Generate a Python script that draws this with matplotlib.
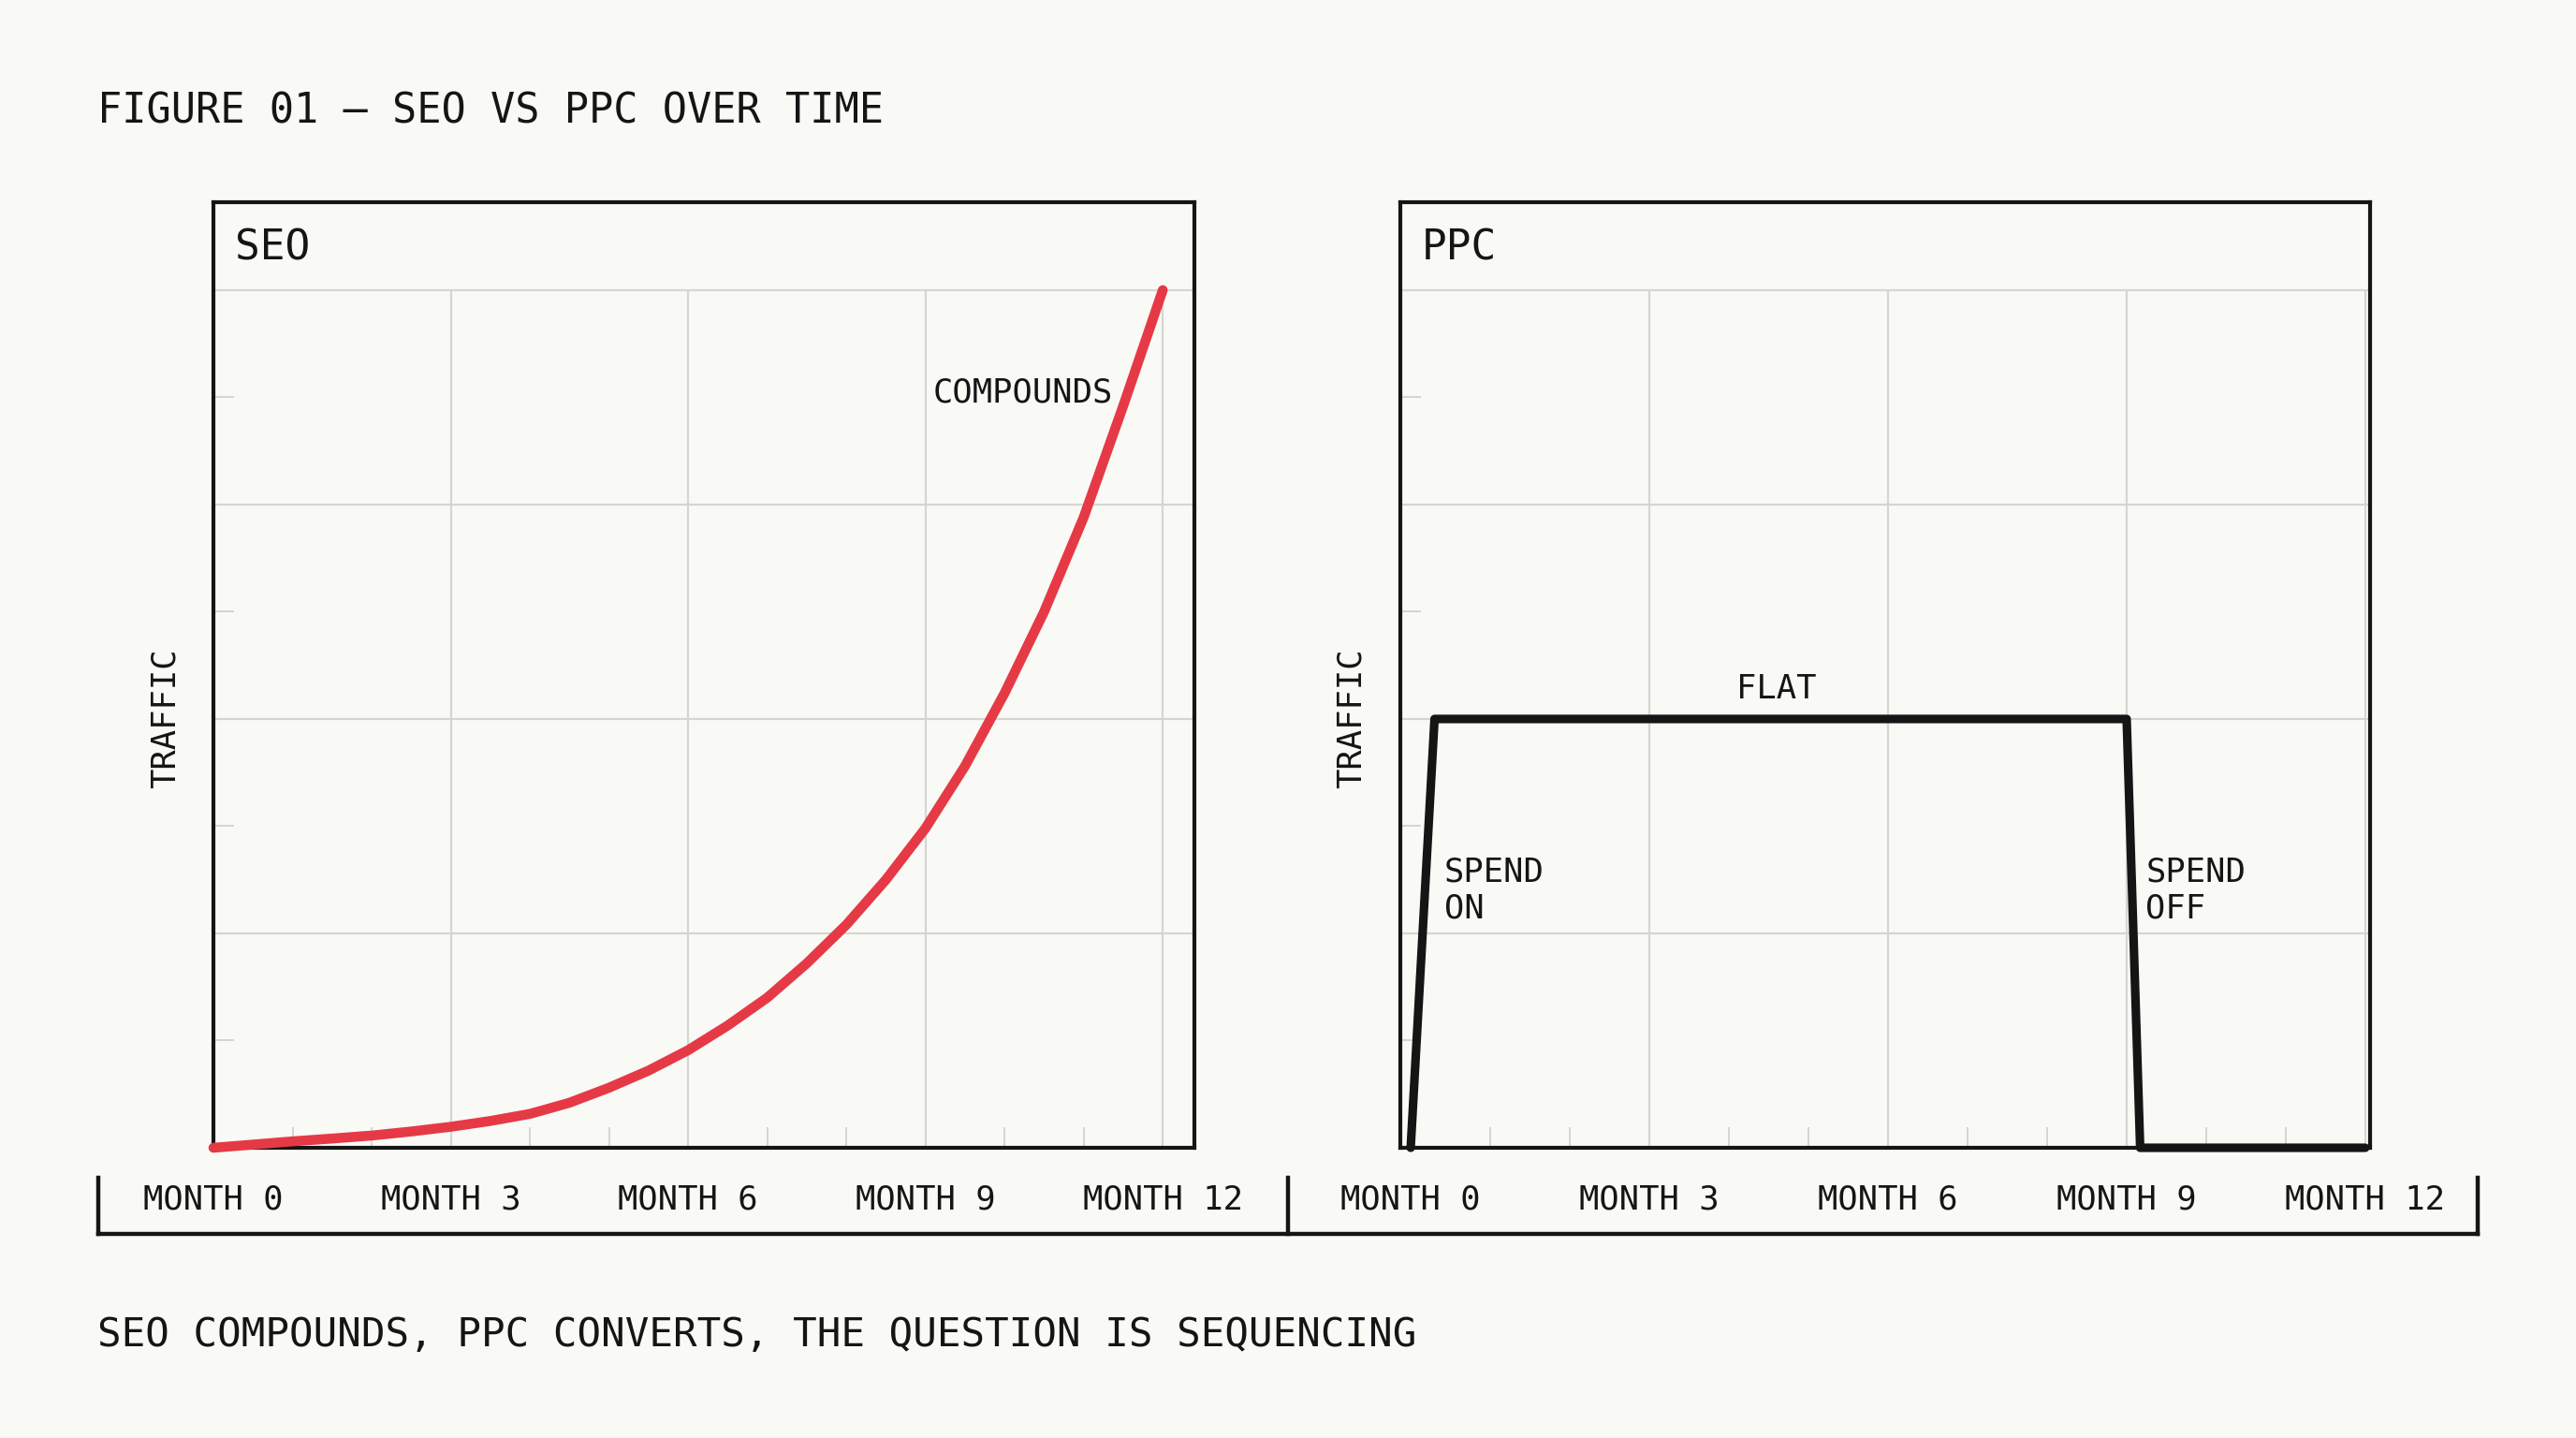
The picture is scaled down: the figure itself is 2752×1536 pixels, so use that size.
import matplotlib
matplotlib.use("Agg")
import matplotlib.pyplot as plt
from matplotlib.lines import Line2D
from matplotlib.ticker import FixedLocator

# ---------------- data ----------------
tick_months = [0, 3, 6, 9, 12]
tick_labels = ["MONTH 0", "MONTH 3", "MONTH 6", "MONTH 9", "MONTH 12"]
minor_months = [1, 2, 4, 5, 7, 8, 10, 11]
traffic_grid = [0, 1, 2, 3, 4]
traffic_minor = [0.5, 1.5, 2.5, 3.5]

seo_months = [0, 0.5, 1, 1.5, 2, 2.5, 3, 3.5, 4, 4.5, 5, 5.5, 6,
              6.5, 7, 7.5, 8, 8.5, 9, 9.5, 10, 10.5, 11, 11.5, 12]
seo_traffic = [0.00, 0.015, 0.03, 0.043, 0.057, 0.076, 0.098, 0.125, 0.158,
               0.21, 0.28, 0.36, 0.455, 0.57, 0.70, 0.86, 1.04, 1.25, 1.49,
               1.78, 2.12, 2.50, 2.94, 3.46, 4.00]

ppc_months = [0, 0.3, 9, 9.17, 12]
ppc_traffic = [0, 2, 2, 0, 0]

title = "FIGURE 01 \u2014 SEO VS PPC OVER TIME"
footer = "SEO COMPOUNDS, PPC CONVERTS, THE QUESTION IS SEQUENCING"

# ---------------- style ----------------
BG = "#F9F9F5"
INK = "#151515"
RED = "#E63946"
GRID = "#D6D6D1"
MONO = ["DejaVu Sans Mono"]

plt.rcParams["font.family"] = MONO

W, H = 2752, 1536
fig = plt.figure(figsize=(W / 200, H / 200), dpi=200, facecolor=BG)

ax1 = fig.add_axes([228 / W, 1 - 1226 / H, 1048 / W, 1010 / H])
ax2 = fig.add_axes([1496 / W, 1 - 1226 / H, 1036 / W, 1010 / H])


def style(ax, xlim, name, label_x):
    ax.set_facecolor(BG)
    ax.set_xlim(*xlim)
    ax.set_ylim(0, 4.41)
    ax.set_axisbelow(True)
    ax.xaxis.set_major_locator(FixedLocator(tick_months))
    ax.set_xticklabels(tick_labels)
    ax.xaxis.set_minor_locator(FixedLocator(minor_months))
    ax.yaxis.set_major_locator(FixedLocator(traffic_grid))
    ax.yaxis.set_minor_locator(FixedLocator(traffic_minor))
    ax.set_yticklabels([])
    ax.grid(True, axis="y", which="major", color=GRID, linewidth=0.8)
    ax.vlines(tick_months[1:], traffic_grid[0], traffic_grid[-1], color=GRID,
              linewidth=0.8, zorder=0.5)
    ax.tick_params(axis="x", which="major", length=0, pad=14,
                   labelsize=12.8, labelcolor=INK)
    ax.tick_params(axis="y", which="major", length=0)
    ax.tick_params(axis="x", which="minor", direction="in", length=8,
                   width=0.7, color=GRID, top=False)
    ax.tick_params(axis="y", which="minor", direction="in", length=8,
                   width=0.7, color=GRID, right=False)
    for sp in ax.spines.values():
        sp.set_color(INK)
        sp.set_linewidth(1.5)
    ax.set_ylabel("TRAFFIC", fontsize=12.8, color=INK)
    ax.yaxis.set_label_coords(label_x, 0.4545)
    ax.text(0.022, 0.951, name, transform=ax.transAxes, fontsize=16,
            color=INK, ha="left", va="center")


style(ax1, (0, 12.4), "SEO", -0.033)
style(ax2, (-0.13, 12.06), "PPC", -0.034)

ax1.plot(seo_months, seo_traffic, color=RED, linewidth=3.8,
         solid_joinstyle="round", solid_capstyle="round", clip_on=False,
         zorder=3)
ax1.text(9.09, 3.52, "COMPOUNDS", fontsize=12.8, color=INK,
         ha="left", va="center")

ax2.plot(ppc_months, ppc_traffic, color=INK, linewidth=3.3,
         solid_joinstyle="round", solid_capstyle="round", clip_on=False,
         zorder=3)
ax2.text(4.6, 2.14, "FLAT", fontsize=12.8, color=INK, ha="center",
         va="center")
ax2.text(0.42, 1.20, "SPEND\nON", fontsize=12.8, color=INK, ha="left",
         va="center", linespacing=1.2)
ax2.text(9.24, 1.20, "SPEND\nOFF", fontsize=12.8, color=INK, ha="left",
         va="center", linespacing=1.2)


# bracket below the tick labels
def fx(px):
    return px / W


def fy(py):
    return 1 - py / H


bracket = [((105, 105), (1258, 1318)), ((105, 2647), (1318, 1318)),
           ((2647, 2647), (1258, 1318)), ((1376, 1376), (1258, 1318))]
for xs, ys in bracket:
    fig.add_artist(Line2D([fx(x) for x in xs], [fy(y) for y in ys],
                          color=INK, linewidth=1.6,
                          solid_capstyle="projecting"))

fig.text(fx(104), fy(119), title, fontsize=15.7, color=INK,
         ha="left", va="center")
fig.text(fx(104), fy(1426), footer, fontsize=15.3, color=INK,
         ha="left", va="center")

fig.savefig("out.png", dpi=200, facecolor=BG)
